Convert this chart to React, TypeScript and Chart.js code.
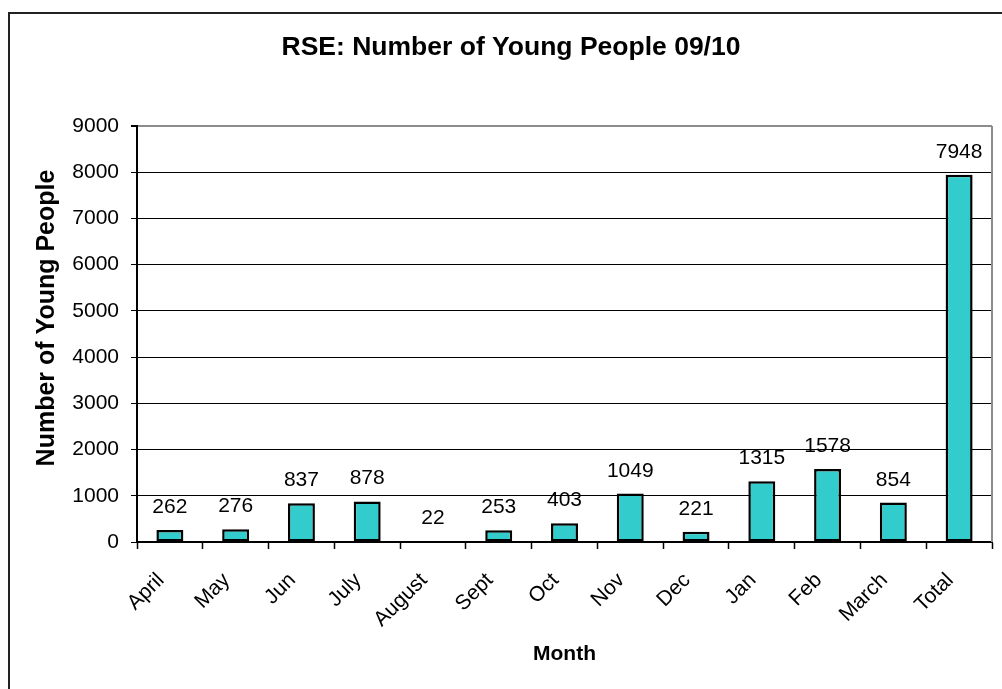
import React, { useEffect, useRef } from "react";
import { Chart, registerables } from "chart.js";

Chart.register(...registerables);

const months = ["April", "May", "Jun", "July", "August", "Sept", "Oct", "Nov", "Dec", "Jan", "Feb", "March", "Total"];
const youngPeople = [262, 276, 837, 878, 22, 253, 403, 1049, 221, 1315, 1578, 854, 7948];
const yTicks = [0, 1000, 2000, 3000, 4000, 5000, 6000, 7000, 8000, 9000];

const chartTitle = "RSE: Number of Young People 09/10";
const yTitle = "Number of Young People";
const xTitle = "Month";

const FONT = 'Arial, "Liberation Sans", sans-serif';

const decorPlugin = {
  id: "decor",
  beforeDraw(chart: any) {
    const ctx = chart.ctx;
    ctx.save();
    ctx.fillStyle = "#ffffff";
    ctx.fillRect(0, 0, chart.width, chart.height);
    ctx.strokeStyle = "#222222";
    ctx.lineWidth = 2;
    ctx.strokeRect(9, 13, chart.width + 20, chart.height + 20);
    ctx.restore();
  },
  afterDraw(chart: any) {
    const ctx = chart.ctx;
    const a = chart.chartArea;
    ctx.save();
    // plot border right (gray)
    ctx.strokeStyle = "#8c8c8c";
    ctx.lineWidth = 2;
    ctx.beginPath();
    ctx.moveTo(a.right, a.top);
    ctx.lineTo(a.right, a.bottom);
    ctx.stroke();
    // titles
    ctx.fillStyle = "#000";
    ctx.textAlign = "center";
    ctx.textBaseline = "middle";
    ctx.font = `bold 26.5px ${FONT}`;
    ctx.fillText(chartTitle, 511, 48);
    ctx.font = `bold 21px ${FONT}`;
    ctx.fillText(xTitle, (a.left + a.right) / 2, 654);
    ctx.save();
    ctx.translate(47, 318);
    ctx.rotate(-Math.PI / 2);
    ctx.font = `bold 25px ${FONT}`;
    ctx.fillText(yTitle, 0, 0);
    ctx.restore();
    // x category labels (rotated 45deg)
    const xs = chart.scales.x;
    ctx.font = `21px ${FONT}`;
    ctx.textAlign = "right";
    ctx.textBaseline = "middle";
    months.forEach((m, i) => {
      const px = xs.getPixelForTick(i);
      ctx.save();
      ctx.translate(px - 9, a.bottom + 35);
      ctx.rotate(-Math.PI / 4);
      ctx.fillText(m, 0, 0);
      ctx.restore();
    });
    // data labels
    const meta = chart.getDatasetMeta(0);
    ctx.font = `21px ${FONT}`;
    ctx.textAlign = "center";
    ctx.textBaseline = "alphabetic";
    meta.data.forEach((bar: any, i: number) => {
      ctx.fillText(String(youngPeople[i]), bar.x, bar.y - 17);
    });
    ctx.restore();
  },
};

export default function App() {
  const ref = useRef<HTMLCanvasElement | null>(null);
  useEffect(() => {
    document.body.style.margin = "0";
    const chart = new Chart(ref.current as HTMLCanvasElement, {
      type: "bar",
      data: {
        labels: months,
        datasets: [
          {
            data: youngPeople,
            backgroundColor: "#33CCCC",
            borderColor: "#000000",
            borderWidth: 2.5,
            borderSkipped: false,
            barPercentage: 0.41,
            categoryPercentage: 1,
          },
        ],
      },
      options: {
        responsive: false,
        animation: false,
        layout: { padding: { top: 126, right: 10, left: 0, bottom: 0 } },
        plugins: {
          legend: { display: false },
          tooltip: { enabled: false },
          title: { display: false },
        },
        scales: {
          x: {
            offset: true,
            afterFit(s: any) {
              s.height = 147;
            },
            grid: {
              offset: true,
              drawOnChartArea: false,
              drawTicks: true,
              tickLength: 7,
              tickColor: "#000",
              tickWidth: 1.5,
            },
            border: { color: "#000", width: 2 },
            ticks: {
              display: false,
              autoSkip: false,
            },
          },
          y: {
            min: 0,
            max: 9000,
            afterFit(s: any) {
              s.width = 137;
            },
            afterBuildTicks(s: any) {
              s.ticks = yTicks.map((v) => ({ value: v }));
            },
            grid: {
              color: (c: any) => (c.tick && c.tick.value === 9000 ? "#8c8c8c" : "#000"),
              lineWidth: (c: any) => (c.tick && c.tick.value === 9000 ? 2 : 1),
              drawTicks: true,
              tickLength: 6,
              tickColor: "#000",
            },
            border: { color: "#000", width: 2 },
            ticks: {
              color: "#000",
              font: { size: 21, family: FONT },
              padding: 12,
              callback: (v: any) => String(v),
            },
          },
        },
      },
      plugins: [decorPlugin],
    } as any);
    return () => chart.destroy();
  }, []);
  return (
    <canvas
      ref={ref}
      width={1002}
      height={689}
      style={{ display: "block", position: "absolute", left: 0, top: 0 }}
    />
  );
}
